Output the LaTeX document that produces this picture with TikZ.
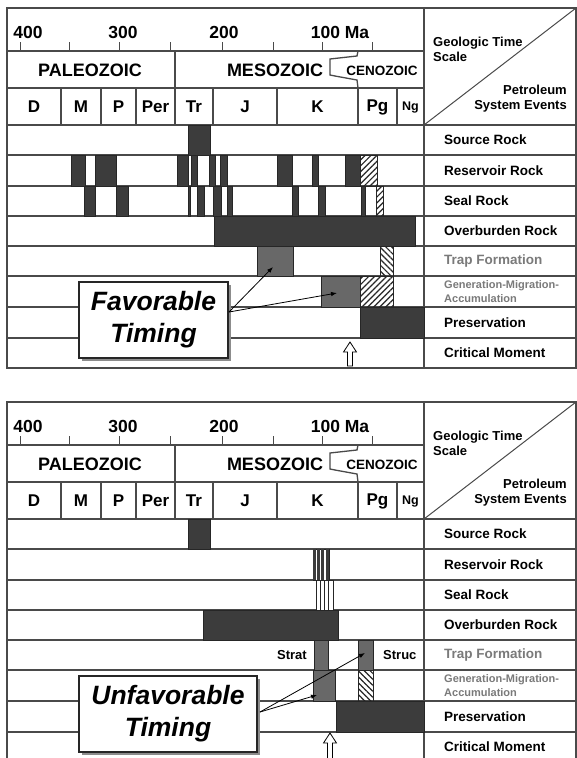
\documentclass[tikz,border=0pt]{standalone}
\usepackage{fontspec}
\setmainfont{Liberation Sans}
\usetikzlibrary{patterns.meta,arrows.meta,shadows}
\definecolor{ln}{HTML}{4A4A4A}
\definecolor{dk}{HTML}{3C3C3C}
\definecolor{md}{HTML}{686868}
\definecolor{gt}{HTML}{7A7A7A}
\newcommand\fsz[2]{\fontsize{#1}{#2}\selectfont}
\tikzset{
  gridline/.style={draw=ln,line width=1.3pt},
  darkbar/.style={fill=dk,draw=black!85,line width=0.6pt},
  medbar/.style={fill=md,draw=black!85,line width=0.6pt},
  hatchR/.style={draw=black!85,line width=0.6pt,fill=white,pattern={Lines[angle=45,distance=4.2pt,line width=1.2pt]},pattern color=black!85},
  hatchL/.style={draw=black!85,line width=0.6pt,fill=white,pattern={Lines[angle=-45,distance=4.2pt,line width=1.2pt]},pattern color=black!85},
  evlabel/.style={anchor=west,inner sep=0pt,font=\bfseries\fsz{13.5}{14}},
  graylabel/.style={anchor=west,inner sep=0pt,text=gt,font=\bfseries\fsz{13.5}{14}},
  gmalabel/.style={anchor=west,inner sep=0pt,text=gt,align=left,font=\bfseries\fsz{11}{14}},
  agelabel/.style={inner sep=0pt,font=\bfseries\fsz{17.5}{18}},
  eralabel/.style={inner sep=0pt,font=\bfseries\fsz{18}{18}},
  perlabel/.style={inner sep=0pt,font=\bfseries\fsz{17}{18}},
  smalllabel/.style={inner sep=0pt,font=\bfseries\fsz{13}{14}},
  hdrlabel/.style={inner sep=0pt,font=\bfseries\fsz{13}{15}},
  timingbox/.style={draw=black!85,line width=1.2pt,fill=white,align=center,
    inner sep=0pt,font=\bfseries\itshape\fsz{26.5}{32},
    drop shadow={opacity=1,fill=black!45,shadow xshift=2.5pt,shadow yshift=-2.5pt}},
  pointer/.style={draw=black,line width=0.8pt,-{Latex[length=6pt,width=4.5pt]}},
  hollowarrow/.style={draw=black,line width=0.8pt,fill=white},
}
\newcommand\pspanel[1]{%
  \fill[white] (7,8) rectangle (576,368);
  \foreach \yy in {125,155,186,216,246,276,307,338}
    \draw[gridline] (7,\yy) -- (576,\yy);
  \draw[gridline] (7,51) -- (424,51);
  \draw[gridline] (7,88) -- (424,88);
  \foreach \xx in {61,101,136,175,213,277,358,397}
    \draw[gridline] (\xx,88) -- (\xx,125);
  \draw[gridline] (175,51) -- (175,88);
  \draw[gridline] (358,51) -- (357,56) -- (330,59) -- (330,75) -- (335,76) -- (357,80) -- (358,88);
  \foreach \xx in {20,69,119,170,222,273,322,372}
    \draw[draw=ln,line width=1pt] (\xx,51) -- (\xx,42);
  \draw[gridline] (424,8) -- (424,368);
  \draw[draw=ln,line width=1pt] (424,125) -- (576,8);
  \node[agelabel] (#1a400) at (28,32) {400};
  \node[agelabel] (#1a300) at (123,32) {300};
  \node[agelabel] (#1a200) at (224,32) {200};
  \node[agelabel] (#1a100) at (340,32) {100 Ma};
  \node[eralabel] (#1pal) at (90,70) {PALEOZOIC};
  \node[eralabel] (#1mes) at (275,70) {MESOZOIC};
  \node[inner sep=0pt,font=\bfseries\fsz{13.5}{14}] (#1cen) at (382,71) {CENOZOIC};
  \node[perlabel] (#1D) at (34,107) {D};
  \node[perlabel] (#1M) at (81,107) {M};
  \node[perlabel] (#1P) at (118.5,107) {P};
  \node[perlabel] (#1Per) at (155.5,107) {Per};
  \node[perlabel] (#1Tr) at (194,107) {Tr};
  \node[perlabel] (#1J) at (245,107) {J};
  \node[perlabel] (#1K) at (317.5,107) {K};
  \node[perlabel] (#1Pg) at (377.5,107) {Pg};
  \node[inner sep=0pt,font=\bfseries\fsz{12.5}{13}] (#1Ng) at (410.5,108) {Ng};
  \node[hdrlabel,anchor=west,align=left] (#1gts) at (433,49) {Geologic Time\\Scale};
  \node[hdrlabel,anchor=east,align=right] (#1pse) at (567,99) {Petroleum\\System Events};
  \node[evlabel] (#1src) at (444,140) {Source Rock};
  \node[evlabel] (#1res) at (444,170.5) {Reservoir Rock};
  \node[evlabel] (#1seal) at (444,201) {Seal Rock};
  \node[evlabel] (#1ovb) at (444,231) {Overburden Rock};
  \node[graylabel] (#1trap) at (444,261) {Trap Formation};
  \node[gmalabel] (#1gma) at (444,291.5) {Generation-Migration-\\Accumulation};
  \node[evlabel] (#1pres) at (444,322.5) {Preservation};
  \node[evlabel] (#1crit) at (444,353) {Critical Moment};
}
\newcommand\psframe{%
  \draw[gridline] (7,8) rectangle (576,368);
}
\begin{document}
\begin{tikzpicture}[x=1pt,y=-1pt]
\useasboundingbox (0,0) rectangle (577,758);
\fill[white] (0,0) rectangle (577,758);

% ===== Top panel =====
\pspanel{t}
\draw[darkbar] (188,125) rectangle (210,155);
\foreach \a/\b in {71/85,95/116,177/188,191/197,209/215,220/227,277/292,312/318,345/360}
  \draw[darkbar] (\a,155) rectangle (\b,186);
\draw[hatchR] (360,155) rectangle (377,186);
\foreach \a/\b in {84/95,116/128,188/190,197/204,213/221,227/232,292/298,318/325,361/365}
  \draw[darkbar] (\a,186) rectangle (\b,216);
\draw[hatchR] (376,186) rectangle (383,216);
\draw[darkbar] (214,216) rectangle (415,246);
\draw[medbar] (257,246) rectangle (293,276);
\draw[hatchL] (380,246) rectangle (393,276);
\draw[medbar] (321,276) rectangle (360,307);
\draw[hatchR] (360,276) rectangle (393,307);
\draw[darkbar] (360,307) rectangle (424,338);
\draw[hollowarrow] (350,342) -- (343.5,352) -- (347.5,352) -- (347.5,366) -- (352.5,366) -- (352.5,352) -- (356.5,352) -- cycle;
\psframe
\node[timingbox,minimum width=149pt,minimum height=76pt] (fav) at (153.5,320) {Favorable\\Timing};
\coordinate (favs) at (229,312);
\coordinate (favtrap) at (273,267);
\coordinate (favgma) at (337,293);
\draw[pointer] (favs) -- (favtrap);
\draw[pointer] (favs) -- (favgma);

% ===== Bottom panel =====
\begin{scope}
\clip (0,390) rectangle (577,758);
\begin{scope}[shift={(0,394)}]
\pspanel{b}
\draw[darkbar] (188,125) rectangle (210,155);
\draw[fill=white,draw=black!85,line width=0.6pt] (313,155) rectangle (329,186);
\foreach \a in {313,317.2,321.4,325.6}
  \fill[dk] (\a,155) rectangle ({\a+3},186);
\draw[fill=white,draw=black!85,line width=0.6pt] (316,186) rectangle (333,216);
\foreach \a in {320.2,324.5,328.8}
  \draw[black!85,line width=1.3pt] (\a,186) -- (\a,216);
\draw[darkbar] (203,216) rectangle (338,246);
\draw[medbar] (314,246) rectangle (328,276);
\draw[medbar] (358,246) rectangle (373,276);
\node[smalllabel,anchor=east] (bstrat) at (307,261) {Strat};
\node[smalllabel,anchor=west] (bstruc) at (383,261) {Struc};
\draw[medbar] (313,276) rectangle (335,307);
\draw[hatchL] (358,276) rectangle (373,307);
\draw[darkbar] (336,307) rectangle (424,338);
\draw[hollowarrow] (330,339) -- (323.5,349) -- (327.5,349) -- (327.5,370) -- (332.5,370) -- (332.5,349) -- (336.5,349) -- cycle;
\psframe
\node[timingbox,minimum width=178pt,minimum height=76pt] (unf) at (168,320) {Unfavorable\\Timing};
\coordinate (unfs) at (260,318);
\coordinate (unfstruc) at (365,259);
\coordinate (unfstrat) at (317,301);
\draw[pointer] (unfs) -- (unfstruc);
\draw[pointer] (unfs) -- (unfstrat);
\end{scope}
\end{scope}
\end{tikzpicture}
\end{document}
